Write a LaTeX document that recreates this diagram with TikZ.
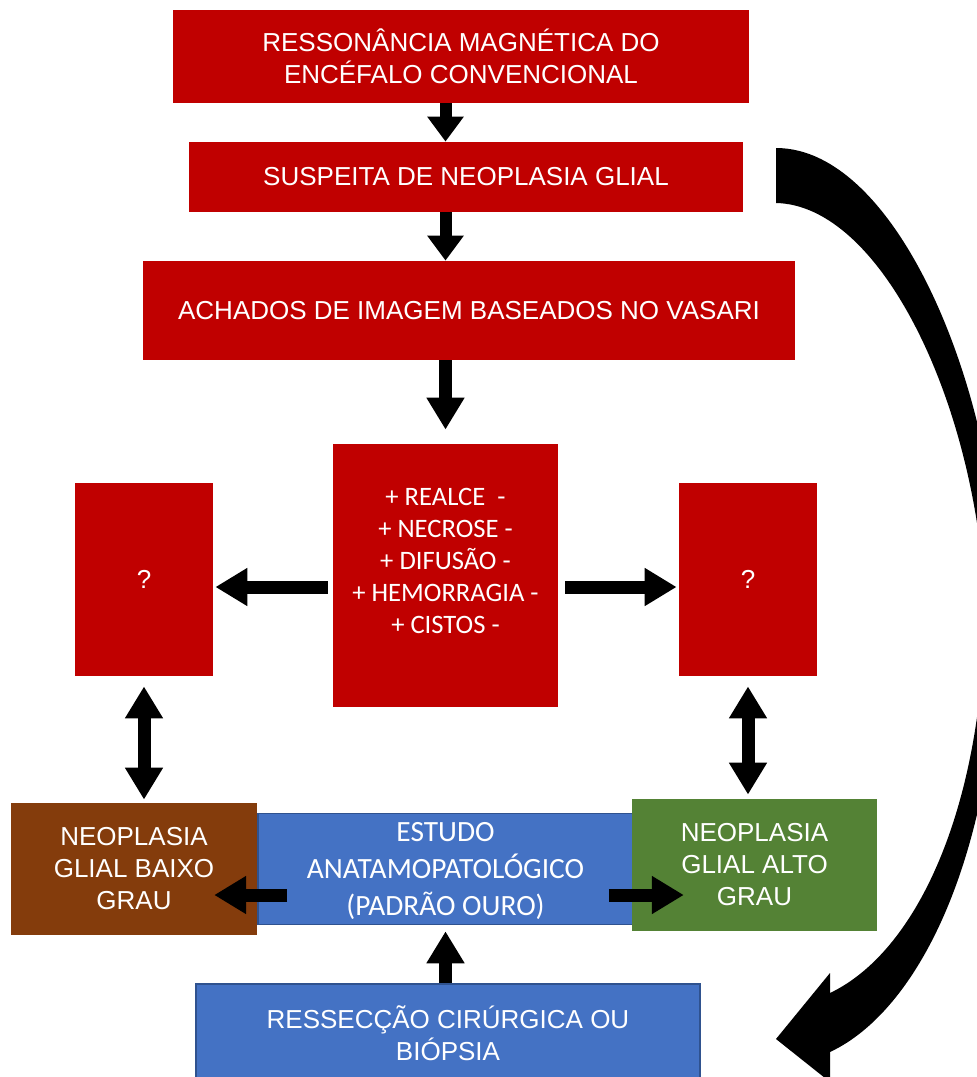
\documentclass[tikz,border=0pt]{standalone}
\usepackage{fontspec}
\setmainfont{Liberation Sans}
\newfontfamily\calib{Carlito}
\usetikzlibrary{arrows.meta,calc}

\definecolor{vermelho}{HTML}{C00000}
\definecolor{marrom}{HTML}{843C0C}
\definecolor{azul}{HTML}{4472C4}
\definecolor{azulb}{HTML}{2F528F}
\definecolor{verde}{HTML}{548235}

\begin{document}
\begin{tikzpicture}[
  x=0.5pt, y=-0.5pt,
  font=\fontsize{13}{16}\selectfont,
  cx/.style={align=center, text=white, inner sep=2pt},
  vbox/.style={cx, fill=vermelho},
  bbox/.style={cx, fill=azul, draw=azulb, line width=0.8pt},
  cal/.style={font=\calib\fontsize{13.3}{16}\selectfont},
  arr/.style={->, >={Triangle[length=16pt,width=18pt]}, line width=6.5pt},
  arrs/.style={->, >={Triangle[length=12.5pt,width=17.5pt]}, line width=6pt}
]
\useasboundingbox (0,0) rectangle (977,1077);

% caixas vermelhas
\node[vbox, minimum width=288pt, minimum height=46.5pt] (rm) at (461,56.5) {RESSONÂNCIA MAGNÉTICA DO\\ENCÉFALO CONVENCIONAL};
\node[vbox, minimum width=277pt, minimum height=35pt] (sus) at (466,177) {SUSPEITA DE NEOPLASIA GLIAL};
\node[vbox, minimum width=326pt, minimum height=49.5pt] (ach) at (469,310.5) {ACHADOS DE IMAGEM BASEADOS NO VASARI};
\node[vbox, cal, minimum width=112.5pt, minimum height=131.5pt, text depth=14.5pt] (cen) at (445.5,575.5)
  {+ REALCE\ \ -\\+ NECROSE -\\+ DIFUSÃO -\\+ HEMORRAGIA -\\+ CISTOS -};
\node[vbox, minimum width=69pt, minimum height=96.5pt] (qe) at (144,579.5) {?};
\node[vbox, minimum width=69pt, minimum height=96.5pt] (qd) at (748,579.5) {?};

% caixas de baixo
\node[bbox, font=\calib\fontsize{14.7}{18.7}\selectfont, minimum width=187.5pt, minimum height=55.5pt, text depth=0pt] (est) at (445.5,869)
  {ESTUDO\\ANATAMOPATOLÓGICO\\(PADRÃO OURO)};
\node[cx, fill=marrom, minimum width=123pt, minimum height=66pt] (baixo) at (134,869) {NEOPLASIA\\GLIAL BAIXO\\GRAU};
\node[cx, fill=verde, minimum width=122.5pt, minimum height=66pt] (alto) at (754.5,865) {NEOPLASIA\\GLIAL ALTO\\GRAU};
\node[bbox, minimum width=252pt, minimum height=49pt] (res) at (448,1033) {RESSECÇÃO CIRÚRGICA OU\\BIÓPSIA};

% setas
\draw[arrs] (rm.south -| cen.north) -- (sus.north -| cen.north);
\draw[arrs] (sus.south -| cen.north) -- (ach.north -| cen.north);
\draw[arr, shorten >=7pt] (ach.south -| cen.north) -- (cen.north);
\draw[arr, shorten <=2.5pt, shorten >=1pt] ([yshift=-5.75pt]cen.west) -- ([yshift=-5.75pt]cen.west -| qe.east);
\draw[arr, shorten <=3.5pt, shorten >=1pt] ([yshift=-5.75pt]cen.east) -- ([yshift=-5.75pt]cen.east -| qd.west);
\draw[arr, <->, shorten <=5pt, shorten >=1.5pt] (qe.south) -- (qe.south |- baixo.north);
\draw[arr, <->, shorten <=5pt, shorten >=2pt] (qd.south) -- (qd.south |- alto.north);
\draw[arr] ($(est.west)+(30,26)$) -- ($(est.west)+(-43,26)$);
\draw[arr] ($(est.east)+(-25,26)$) -- ($(est.east)+(50,26)$);
\draw[arr, shorten >=3pt] (res.north -| est.south) -- (est.south);

% seta curva
\fill (776,148) .. controls (900,148) and (1000,400) .. (1000,600)
  .. controls (1000,850) and (920,1010) .. (830,1052)
  -- (830,1082) -- (776,1039) -- (830,973) -- (830,993)
  .. controls (920,950) and (985,800) .. (985,600)
  .. controls (975,400) and (880,205) .. (776,203) -- cycle;
\end{tikzpicture}
\end{document}
